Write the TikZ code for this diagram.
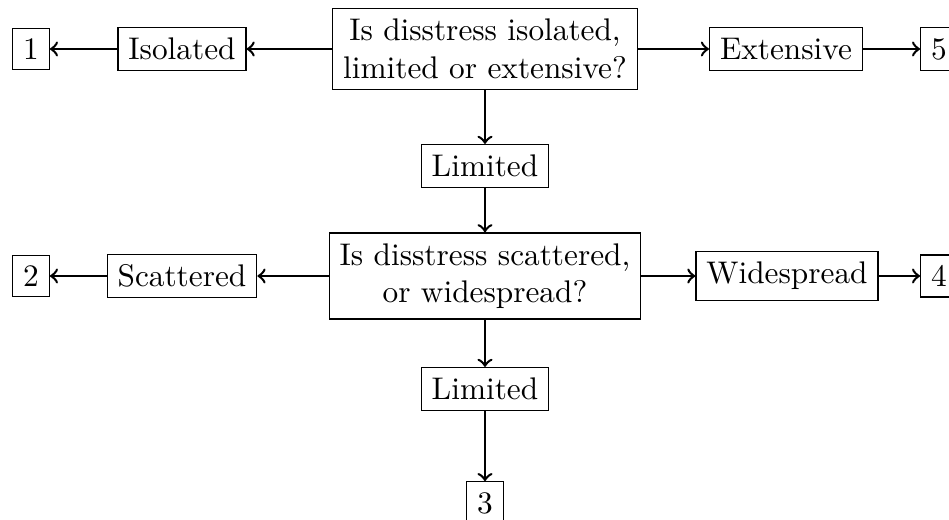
\documentclass[tikz,border=0pt]{standalone}
\begin{document}
\begin{tikzpicture}[x=0.3195pt,y=-0.3195pt,
  box/.style={draw,rectangle,align=center},
  arr/.style={->,thick}]
\useasboundingbox (0,0) rectangle (949,520);
\node[box] (q1) at (485,49) {Is disstress isolated,\\limited or extensive?};
\node[box] (iso) at (182,49) {Isolated};
\node[box] (n1) at (31,49) {1};
\node[box] (ext) at (786,49) {Extensive};
\node[box] (n5) at (939,49) {5};
\node[box] (lim1) at (485,166) {Limited};
\node[box] (q2) at (485,276) {Is disstress scattered,\\or widespread?};
\node[box] (scat) at (182,276) {Scattered};
\node[box] (n2) at (31,276) {2};
\node[box] (wide) at (787,276) {Widespread};
\node[box] (n4) at (939,276) {4};
\node[box] (lim2) at (485,389) {Limited};
\node[box] (n3) at (485,503) {3};
\draw[arr] (q1) -- (iso);
\draw[arr] (iso) -- (n1);
\draw[arr] (q1) -- (ext);
\draw[arr] (ext) -- (n5);
\draw[arr] (q1) -- (lim1);
\draw[arr] (lim1) -- (q2);
\draw[arr] (q2) -- (scat);
\draw[arr] (scat) -- (n2);
\draw[arr] (q2) -- (wide);
\draw[arr] (wide) -- (n4);
\draw[arr] (q2) -- (lim2);
\draw[arr] (lim2) -- (n3);
\end{tikzpicture}
\end{document}
